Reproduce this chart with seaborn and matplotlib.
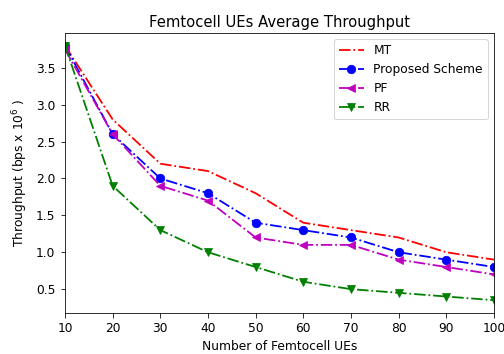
import pandas as pd
import matplotlib
matplotlib.use("Agg")
import matplotlib.pyplot as plt
import seaborn as sns

# data
ues = [10, 20, 30, 40, 50, 60, 70, 80, 90, 100]
mt = [3.8, 2.8, 2.2, 2.1, 1.8, 1.4, 1.3, 1.2, 1.0, 0.9]
proposed = [3.8, 2.6, 2.0, 1.8, 1.4, 1.3, 1.2, 1.0, 0.9, 0.8]
pf = [3.75, 2.6, 1.9, 1.7, 1.2, 1.1, 1.1, 0.9, 0.8, 0.7]
rr = [3.8, 1.9, 1.3, 1.0, 0.8, 0.6, 0.5, 0.45, 0.4, 0.35]

series = [
    ("MT", mt, "r", None),
    ("Proposed Scheme", proposed, "b", "o"),
    ("PF", pf, "m", "<"),
    ("RR", rr, "g", "v"),
]

plt.rcParams["font.size"] = 12.3

fig, ax = plt.subplots(figsize=(7, 354 / 72), dpi=72)
fig.subplots_adjust(left=0.129, right=0.980, top=0.907, bottom=0.116)

for name, vals, col, mk in series:
    df = pd.DataFrame({"ues": ues, "thr": vals})
    sns.lineplot(data=df, x="ues", y="thr", ax=ax, color=col, marker=mk,
                 linestyle="-.", markersize=8.5, markeredgecolor=col,
                 linewidth=1.8, label=name)

ax.set_xlim(10, 100)
ax.set_xticks(ues)
ax.set_yticks([0.5, 1.0, 1.5, 2.0, 2.5, 3.0, 3.5])
ax.tick_params(labelsize=12.3, length=4.5, pad=5)
ax.set_title("Femtocell UEs Average Throughput", fontsize=14.8)
ax.set_xlabel("Number of Femtocell UEs", labelpad=5)
ax.set_ylabel("Throughput (bps x 10$^6$ )", labelpad=6)
ax.legend(loc="upper right")

fig.savefig("out.png", dpi=72)
